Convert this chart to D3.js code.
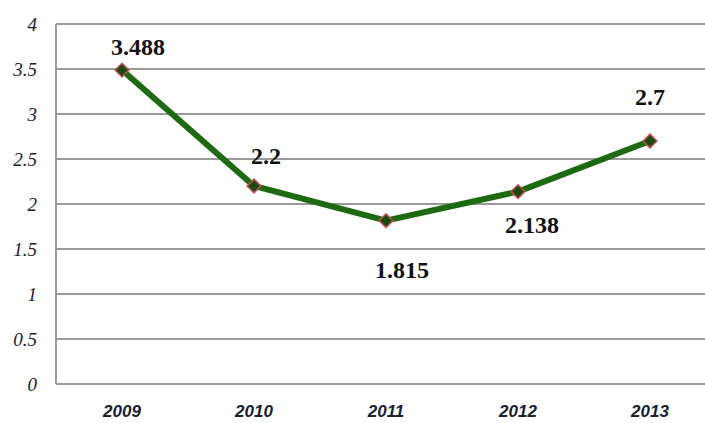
<!DOCTYPE html>
<html>
<head>
<meta charset="utf-8">
<script src="https://cdn.jsdelivr.net/npm/d3@7"></script>
<style>
  body { margin: 0; background: #fff; }
</style>
</head>
<body>
<div id="chart"></div>
<script>
var years = ['2009', '2010', '2011', '2012', '2013'];
var values = [3.488, 2.2, 1.815, 2.138, 2.7];
var yTicks = [0, 0.5, 1, 1.5, 2, 2.5, 3, 3.5, 4];

var W = 705, H = 423;
var margin = { top: 24, right: -11, bottom: 39, left: 56 };
var width = W - margin.left - margin.right;
var height = H - margin.top - margin.bottom;

// label offsets from each point (dx, dy to baseline)
var labelDx = [16, 12, 16, 14, 0];
var labelDy = [-15, -22, 57, 41, -36];

var serif = "'Liberation Serif', 'Times New Roman', serif";

var svg = d3.select('#chart').append('svg')
    .attr('width', W)
    .attr('height', H);

var g = svg.append('g')
    .attr('transform', 'translate(' + margin.left + ',' + margin.top + ')');

var x = d3.scaleBand().domain(years).range([0, width]);
var y = d3.scaleLinear().domain([0, 4]).range([height, 0]);

// grid
g.selectAll('.grid')
    .data(yTicks)
    .enter()
    .append('line')
    .attr('x1', 0)
    .attr('x2', width)
    .attr('y1', function (d) { return y(d); })
    .attr('y2', function (d) { return y(d); })
    .attr('stroke', '#9a9a9a')
    .attr('stroke-width', 2);

g.append('line')
    .attr('x1', 0).attr('x2', 0)
    .attr('y1', 0).attr('y2', height)
    .attr('stroke', '#9a9a9a')
    .attr('stroke-width', 2);

// y axis labels
var yAxis = g.append('g')
    .call(d3.axisLeft(y).tickValues(yTicks).tickSize(0).tickPadding(19).tickFormat(d3.format('')));
yAxis.select('.domain').remove();
yAxis.selectAll('text')
    .attr('font-family', serif)
    .attr('font-style', 'italic')
    .attr('font-size', 19)
    .attr('fill', '#1a2030');

// x axis labels
var xAxis = g.append('g')
    .attr('transform', 'translate(0,' + height + ')')
    .call(d3.axisBottom(x).tickSize(0).tickPadding(21));
xAxis.select('.domain').remove();
xAxis.selectAll('text')
    .attr('font-family', 'Liberation Sans')
    .attr('font-style', 'italic')
    .attr('font-weight', 'bold')
    .attr('font-size', 17)
    .attr('fill', '#1a2030');

var cx = function (i) { return x(years[i]) + x.bandwidth() / 2; };

// line
var line = d3.line()
    .x(function (d, i) { return cx(i); })
    .y(function (d) { return y(d); });

g.append('path')
    .datum(values)
    .attr('d', line)
    .attr('fill', 'none')
    .attr('stroke', '#1e6a12')
    .attr('stroke-width', 6)
    .attr('stroke-linejoin', 'round');

// markers
g.selectAll('.marker')
    .data(values)
    .enter()
    .append('path')
    .attr('class', 'marker')
    .attr('d', d3.symbol().type(d3.symbolDiamond2).size(120))
    .attr('transform', function (d, i) { return 'translate(' + cx(i) + ',' + y(d) + ')'; })
    .attr('fill', '#1a4a12')
    .attr('stroke', '#c05050')
    .attr('stroke-width', 1.5);

// data labels
g.selectAll('.dlabel')
    .data(values)
    .enter()
    .append('text')
    .attr('class', 'dlabel')
    .attr('x', function (d, i) { return cx(i) + labelDx[i]; })
    .attr('y', function (d, i) { return y(d) + labelDy[i]; })
    .attr('text-anchor', 'middle')
    .attr('font-family', serif)
    .attr('font-weight', 'bold')
    .attr('font-size', 24)
    .attr('fill', '#111')
    .text(function (d) { return d; });
</script>
</body>
</html>
